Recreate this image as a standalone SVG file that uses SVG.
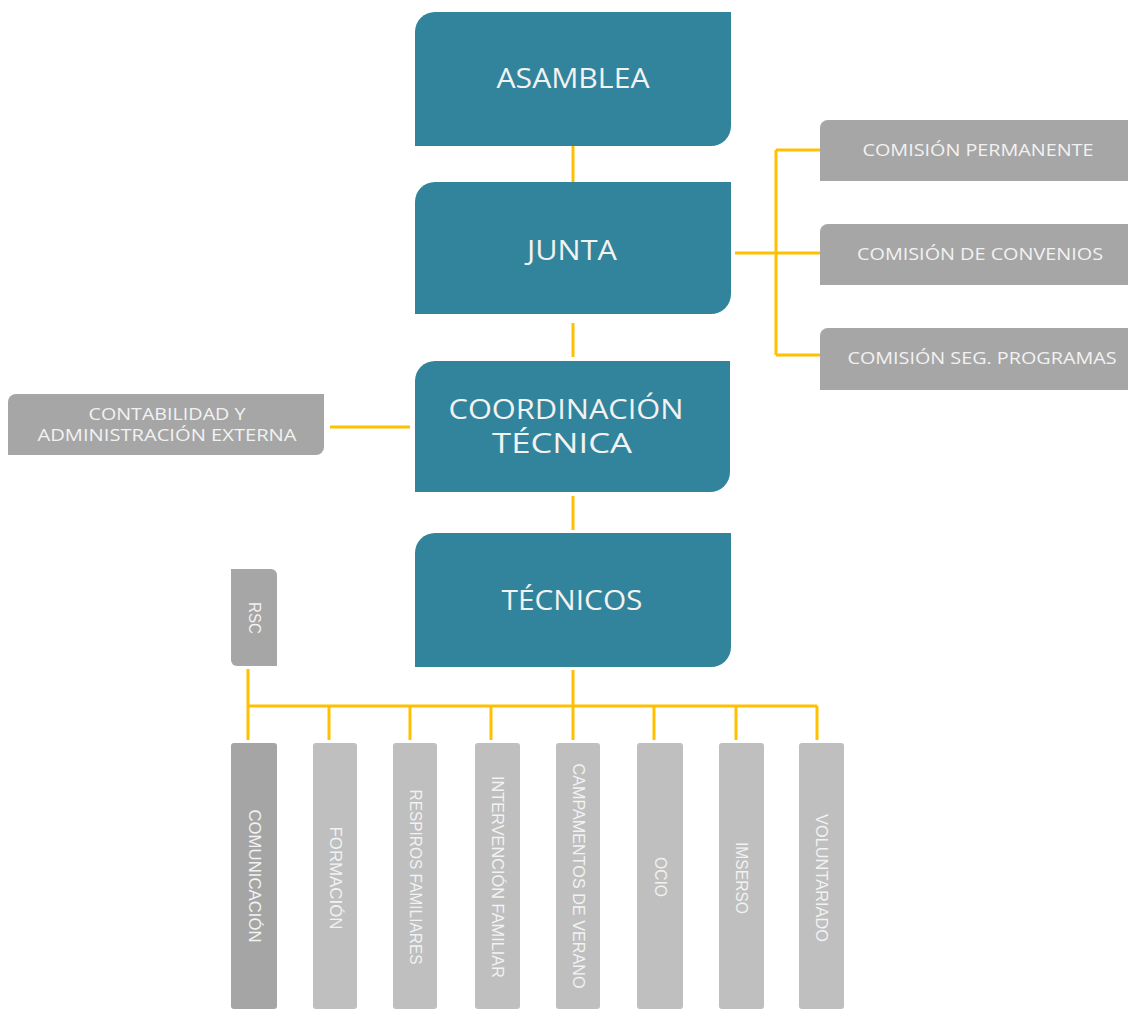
<svg xmlns="http://www.w3.org/2000/svg" width="1128" height="1009" viewBox="0 0 1128 1009">
<style>
.main{fill:#31849b}
.gray{fill:#a6a6a6}
.lite{fill:#bfbfbf}
.dark{fill:#a5a5a5}
.mt{font-family:"Open Sans","DejaVu Sans",sans-serif;font-size:27px;fill:#f2f2f2;text-anchor:middle}
.gt{font-family:"Open Sans","DejaVu Sans",sans-serif;font-size:16px;fill:#f2f2f2;text-anchor:middle}
.vt{font-family:"Liberation Sans","DejaVu Sans",sans-serif;font-size:17px;fill:#f2f2f2;text-anchor:middle;dominant-baseline:central}
.ln{stroke:#ffc000;stroke-width:3;fill:none}
</style>
<rect width="1128" height="1009" fill="#ffffff"/>
<g id="connectors">
<path class="ln" d="M573 146V182M573 323V357M573 496V530M573 670V706"/>
<path class="ln" d="M735 253H776M776 150V355M776 150H820M776 253H820M776 355H820"/>
<path class="ln" d="M330 427H410"/>
<path class="ln" d="M248 706H817M248 669V740M329 706V740M410 706V740M491 706V740M573 706V740M654 706V740M736 706V740M817 706V740"/>
</g>
<g id="asamblea">
<path class="main" d="M435 12H731V126A20 20 0 0 1 711 146H415V32A20 20 0 0 1 435 12Z"/>
<text class="mt" x="573" y="88" textLength="153" lengthAdjust="spacingAndGlyphs">ASAMBLEA</text>
</g>
<g id="junta">
<path class="main" d="M435 182H731V294A20 20 0 0 1 711 314H415V202A20 20 0 0 1 435 182Z"/>
<text class="mt" x="572" y="260" textLength="90" lengthAdjust="spacingAndGlyphs">JUNTA</text>
</g>
<g id="coordinacion">
<path class="main" d="M435 361H730V472A20 20 0 0 1 710 492H415V381A20 20 0 0 1 435 361Z"/>
<text class="mt" x="566" y="419" textLength="235" lengthAdjust="spacingAndGlyphs">COORDINACIÓN</text>
<text class="mt" x="562" y="453" textLength="140" lengthAdjust="spacingAndGlyphs">TÉCNICA</text>
</g>
<g id="tecnicos">
<path class="main" d="M435 533H731V647A20 20 0 0 1 711 667H415V553A20 20 0 0 1 435 533Z"/>
<text class="mt" x="572" y="610" textLength="141" lengthAdjust="spacingAndGlyphs">TÉCNICOS</text>
</g>
<g id="com-permanente">
<path class="gray" d="M828 120H1128V181H820V128A8 8 0 0 1 828 120Z"/>
<text class="gt" x="978" y="156" textLength="231" lengthAdjust="spacingAndGlyphs">COMISIÓN PERMANENTE</text>
</g>
<g id="com-convenios">
<path class="gray" d="M828 224H1128V285H820V232A8 8 0 0 1 828 224Z"/>
<text class="gt" x="980" y="260" textLength="246" lengthAdjust="spacingAndGlyphs">COMISIÓN DE CONVENIOS</text>
</g>
<g id="com-seg">
<path class="gray" d="M828 328H1128V390H820V336A8 8 0 0 1 828 328Z"/>
<text class="gt" x="982" y="364" textLength="269" lengthAdjust="spacingAndGlyphs">COMISIÓN SEG. PROGRAMAS</text>
</g>
<g id="contabilidad">
<path class="gray" d="M16 394H324V447A8 8 0 0 1 316 455H8V402A8 8 0 0 1 16 394Z"/>
<text class="gt" x="167" y="420" textLength="157" lengthAdjust="spacingAndGlyphs">CONTABILIDAD Y</text>
<text class="gt" x="167" y="441" textLength="259" lengthAdjust="spacingAndGlyphs">ADMINISTRACIÓN EXTERNA</text>
</g>
<g id="rsc">
<path class="gray" d="M231 569H271A6 6 0 0 1 277 575V666H237A6 6 0 0 1 231 660Z"/>
<text class="vt" transform="rotate(90 254 618)" x="254" y="618" textLength="32" lengthAdjust="spacingAndGlyphs">RSC</text>
</g>
<g id="comunicacion">
<rect class="dark" x="231" y="743" width="46" height="266" rx="3"/>
<text class="vt" transform="rotate(90 254 876)" x="254" y="876" textLength="133" lengthAdjust="spacingAndGlyphs">COMUNICACIÓN</text>
</g>
<g id="formacion">
<rect class="lite" x="313" y="743" width="44" height="266" rx="3"/>
<text class="vt" transform="rotate(90 335 878)" x="335" y="878" textLength="103" lengthAdjust="spacingAndGlyphs">FORMACIÓN</text>
</g>
<g id="respiros">
<rect class="lite" x="393" y="743" width="44" height="266" rx="3"/>
<text class="vt" transform="rotate(90 415 877)" x="415" y="877" textLength="175" lengthAdjust="spacingAndGlyphs">RESPIROS FAMILIARES</text>
</g>
<g id="intervencion">
<rect class="lite" x="475" y="743" width="45" height="266" rx="3"/>
<text class="vt" transform="rotate(90 497 877)" x="497" y="877" textLength="202" lengthAdjust="spacingAndGlyphs">INTERVENCIÓN FAMILIAR</text>
</g>
<g id="campamentos">
<rect class="lite" x="556" y="743" width="44" height="266" rx="3"/>
<text class="vt" transform="rotate(90 578 876)" x="578" y="876" textLength="225" lengthAdjust="spacingAndGlyphs">CAMPAMENTOS DE VERANO</text>
</g>
<g id="ocio">
<rect class="lite" x="637" y="743" width="46" height="266" rx="3"/>
<text class="vt" transform="rotate(90 660 877)" x="660" y="877" textLength="40" lengthAdjust="spacingAndGlyphs">OCIO</text>
</g>
<g id="imserso">
<rect class="lite" x="719" y="743" width="45" height="266" rx="3"/>
<text class="vt" transform="rotate(90 741 878)" x="741" y="878" textLength="72" lengthAdjust="spacingAndGlyphs">IMSERSO</text>
</g>
<g id="voluntariado">
<rect class="lite" x="799" y="743" width="45" height="266" rx="3"/>
<text class="vt" transform="rotate(90 821 878)" x="821" y="878" textLength="128" lengthAdjust="spacingAndGlyphs">VOLUNTARIADO</text>
</g>
</svg>
